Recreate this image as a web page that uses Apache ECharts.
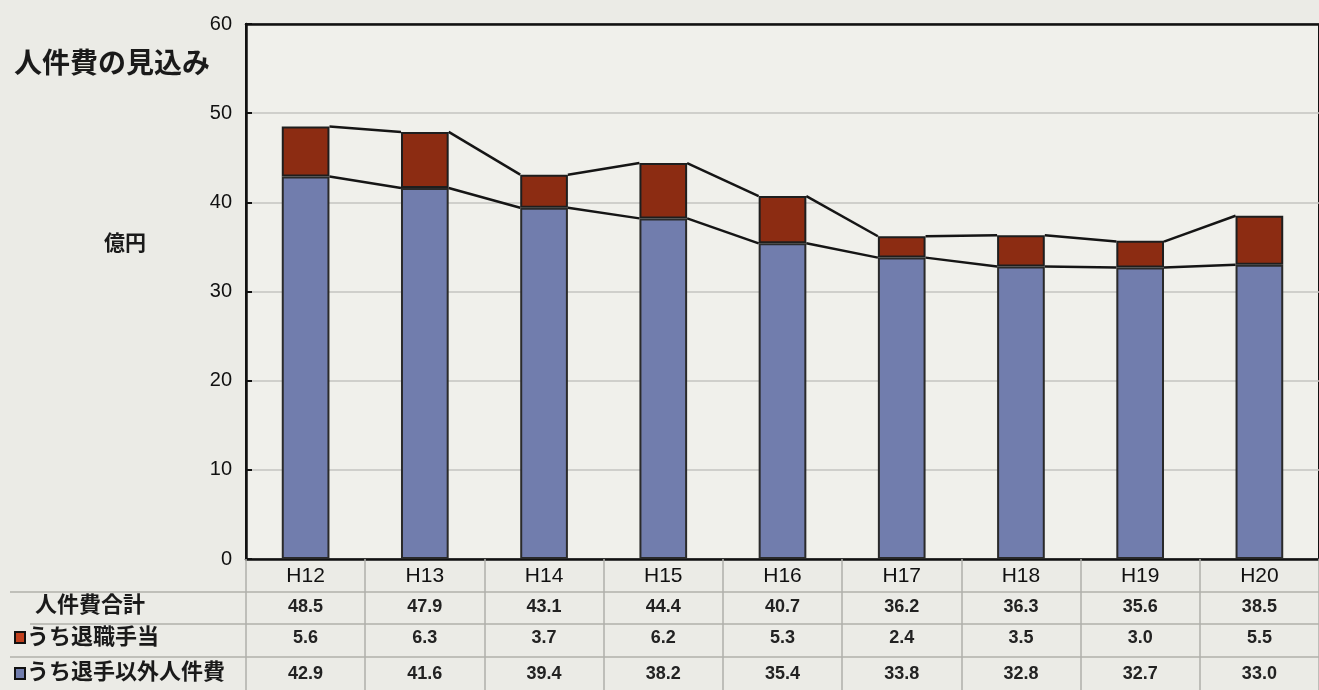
<!DOCTYPE html>
<html><head><meta charset="utf-8">
<script src="https://cdn.jsdelivr.net/npm/echarts@6/dist/echarts.min.js"></script>
<style>html,body{margin:0;padding:0;background:#ebebe6}#c{width:1319px;height:690px}</style>
</head><body><div id="c"></div>
<script>
const categories = ['H12','H13','H14','H15','H16','H17','H18','H19','H20'];
const retire = [5.6,6.3,3.7,6.2,5.3,2.4,3.5,3.0,5.5];
const other = [42.9,41.6,39.4,38.2,35.4,33.8,32.8,32.7,33.0];
const totals = [48.5,47.9,43.1,44.4,40.7,36.2,36.3,35.6,38.5];
const rowLabels = ['人件費合計','うち退職手当','うち退手以外人件費'];
const title = '人件費の見込み';
const unit = '億円';

const JP = '"Noto Sans CJK JP","Noto Sans",sans-serif';
const NUM = '"Liberation Sans",Arial,sans-serif';
const chart = echarts.init(document.getElementById('c'));

function tableAxis(arr, offset){
  return {type:'category', data:categories, position:'bottom', offset:offset, gridIndex:0,
    axisLine:{show:false}, axisTick:{show:false}, splitLine:{show:false},
    axisLabel:{margin:8, fontSize:18, fontWeight:'bold', fontFamily:NUM, color:'#222',
      formatter:(v,i)=>arr[i].toFixed(1)}};
}

const option = {
  backgroundColor:'#ebebe6',
  animation:false,
  grid:{left:246, top:24, width:1080, height:535, show:true, backgroundColor:'#f0f0eb', borderColor:'#111', borderWidth:2},
  xAxis:[
    {type:'category', data:categories, position:'bottom',
      axisLine:{lineStyle:{color:'#111', width:2.5}},
      axisTick:{show:true, length:132, lineStyle:{color:'#b0b0aa', width:1.5}},
      axisLabel:{margin:7, fontSize:21, fontFamily:NUM, color:'#111'}},
    tableAxis(totals, 31),
    tableAxis(retire, 62),
    tableAxis(other, 98),
    {type:'category', data:categories, position:'top',
      axisLine:{show:true, lineStyle:{color:'#111', width:2.5}},
      axisTick:{show:false}, axisLabel:{show:false}, splitLine:{show:false}}
  ],
  yAxis:{type:'value', min:0, max:60, interval:10,
    axisLine:{show:true, lineStyle:{color:'#111', width:2.5}},
    axisTick:{show:true, inside:true, length:6, lineStyle:{color:'#111', width:2}},
    axisLabel:{margin:14, fontSize:20, fontFamily:NUM, color:'#111'},
    splitLine:{show:true, lineStyle:{color:'#c4c4c0', width:1.5}}},
  series:[
    {type:'bar', name:'うち退手以外人件費', stack:'a', data:other, barWidth:'40%',
      itemStyle:{color:'#717dad', borderColor:'#2a2a2a', borderWidth:2}},
    {type:'bar', name:'うち退職手当', stack:'a', data:retire, barWidth:'40%',
      itemStyle:{color:'#8c2c12', borderColor:'#1e1e1e', borderWidth:2}},
    {type:'custom', z:5, data:categories.slice(0,-1).map((c,i)=>[i, totals[i]]),
      renderItem:(params, api)=>{
        const i = api.value(0);
        const w = api.size([1,0])[0]*0.4;
        const mk = (arr)=>{
          const a = api.coord([i, arr[i]]);
          const b = api.coord([i+1, arr[i+1]]);
          return {type:'line', shape:{x1:a[0]+w/2, y1:a[1], x2:b[0]-w/2, y2:b[1]},
            style:{stroke:'#151515', lineWidth:2.5}};
        };
        return {type:'group', children:[mk(totals), mk(other)]};
      }}
  ],
  graphic:[
    {type:'text', left:14, top:48, style:{text:title, font:'bold 28px '+JP, fill:'#1a1a1a'}},
    {type:'text', left:104, top:232, style:{text:unit, font:'bold 21px '+JP, fill:'#1a1a1a'}},
    {type:'line', shape:{x1:10, y1:592, x2:1319, y2:592}, style:{stroke:'#b0b0aa', lineWidth:1.5}},
    {type:'line', shape:{x1:30, y1:624, x2:1319, y2:624}, style:{stroke:'#b0b0aa', lineWidth:1.5}},
    {type:'line', shape:{x1:10, y1:657, x2:1319, y2:657}, style:{stroke:'#b0b0aa', lineWidth:1.5}},
    {type:'text', left:35, top:593, style:{text:rowLabels[0], font:'bold 22px '+JP, fill:'#1a1a1a'}},
    {type:'rect', shape:{x:15, y:632, width:10, height:11}, style:{fill:'#c0401e', stroke:'#111', lineWidth:2}},
    {type:'text', left:27, top:625, style:{text:rowLabels[1], font:'bold 22px '+JP, fill:'#1a1a1a'}},
    {type:'rect', shape:{x:15, y:668, width:10, height:11}, style:{fill:'#717dad', stroke:'#111', lineWidth:2}},
    {type:'text', left:27, top:660, style:{text:rowLabels[2], font:'bold 22px '+JP, fill:'#1a1a1a'}}
  ]
};
chart.setOption(option);
</script></body></html>
